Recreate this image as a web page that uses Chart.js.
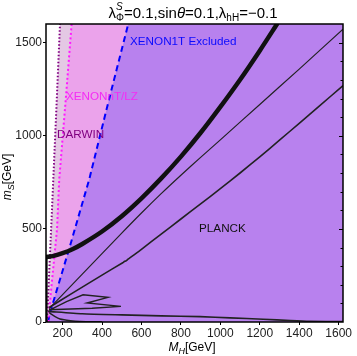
<!DOCTYPE html>
<html>
<head>
<meta charset="utf-8">
<script src="https://cdn.jsdelivr.net/npm/chart.js@4.4.0/dist/chart.umd.min.js"></script>
<style>
html, body { margin: 0; padding: 0; background: #fff; }
#wrap { width: 357px; height: 356px; }
</style>
</head>
<body>
<div id="wrap"><canvas id="c" width="357" height="356"></canvas></div>
<script>
// axes
const xTicks = [200, 400, 600, 800, 1000, 1200, 1400, 1600];
const yTicks = [0, 500, 1000, 1500];
const xRange = [116, 1622];
const yRange = [0, 1600];

// direct detection limits, [M_H, m_S]
const darwin = [[121, 0], [142, 500], [153, 765], [170, 1180], [187, 1600]];
const xenonNT = [[127, 0], [140, 150], [172, 500], [183, 765], [215, 1180], [246, 1600]];
const xenon1T = [[126, 0], [136, 48], [237, 406], [335, 765], [432, 1180], [533, 1600]];

// relic density (PLANCK) contours
const planckThick = [[116, 349], [150, 354], [200, 370], [250, 391], [300, 419], [400, 486], [500, 568],
  [600, 664], [700, 771], [800, 888], [900, 1016], [1000, 1155], [1100, 1301], [1200, 1457], [1290, 1604]];
const planckEdge = [[118, 0], [118, 349]];
const planckA = [[132, 72], [300, 257], [500, 477], [600, 585], [700, 689], [800, 788], [900, 884],
  [1000, 978], [1200, 1168], [1400, 1358], [1622, 1572]];
const planckB = [[132, 78], [250, 155], [400, 252], [505, 318], [515, 326], [522, 328], [532, 337],
  [600, 390], [700, 472], [800, 553], [900, 634], [1000, 716], [1100, 800], [1200, 887], [1300, 976],
  [1400, 1067], [1500, 1158], [1622, 1269]];
const planckLoop = [[131, 62], [220, 110], [304, 146], [430, 132], [324, 102], [496, 84], [350, 74], [131, 66]];
const planckBottom = [[127, 57], [300, 44], [500, 38], [700, 33], [897, 29], [1050, 22], [1217, 15],
  [1355, 8], [1450, 4], [1622, 2]];
const planckLow = [[132, 50], [160, 30], [187, 16], [240, 7], [288, 3], [400, 1]];

const pts = (a) => a.map((p) => ({ x: p[0], y: p[1] }));
const corner = [xRange[1], yRange[1]];

const fillSet = (arr, color, order) => ({
  data: pts(arr.concat([corner])),
  borderWidth: 0,
  borderColor: "rgba(0,0,0,0)",
  backgroundColor: color,
  fill: "start",
  pointRadius: 0,
  tension: 0,
  order: order,
});

const lineSet = (arr, color, width, dash, tension, order) => ({
  data: pts(arr),
  borderColor: color,
  borderWidth: width,
  borderDash: dash,
  fill: false,
  pointRadius: 0,
  tension: tension,
  order: order,
});

const FONT = "'Liberation Sans', Arial, sans-serif";

// rich text: parts are [text, size, dy, italic]
function richWidth(ctx, parts) {
  let w = 0;
  parts.forEach((p) => {
    if (p.stack) {
      w += Math.max(...p.stack.map((q) => { ctx.font = (q[3] ? "italic " : "") + q[1] + "px " + FONT; return ctx.measureText(q[0]).width; }));
    } else {
      ctx.font = (p[3] ? "italic " : "") + p[1] + "px " + FONT;
      w += ctx.measureText(p[0]).width;
    }
  });
  return w;
}
function drawRich(ctx, parts, x, y) {
  let cx = x;
  ctx.textBaseline = "alphabetic";
  ctx.textAlign = "left";
  parts.forEach((p) => {
    const list = p.stack ? p.stack : [p];
    let adv = 0;
    list.forEach((q) => {
      ctx.font = (q[3] ? "italic " : "") + q[1] + "px " + FONT;
      ctx.fillText(q[0], cx, y + q[2]);
      adv = Math.max(adv, ctx.measureText(q[0]).width);
    });
    cx += adv;
  });
}

const titleParts = [
  ["λ", 15, 0, false],
  { stack: [["S", 10, -8, true], ["Φ", 10, 3, false]] },
  ["=0.1,sin", 15, 0, false],
  ["θ", 15, 0, true],
  ["=0.1,λ", 15, 0, false],
  ["hH", 10, 3, false],
  ["=−0.1", 15, 0, false],
];
const xTitleParts = [["M", 12, 0, true], ["H", 9, 3, true], ["[GeV]", 12, 0, false]];
const yTitleParts = [["m", 12, 0, true], ["S", 9, 3, true], ["[GeV]", 12, 0, false]];

const labels = [
  { text: "XENON1T Excluded", x: 542, y: 1504, color: "#0a0aff" },
  { text: "XENONnT/LZ", x: 217, y: 1208, color: "#f42cf4" },
  { text: "DARWIN", x: 172, y: 1003, color: "#800080" },
  { text: "PLANCK", x: 892, y: 501, color: "#111" },
];

const decoPlugin = {
  id: "deco",
  afterDatasetsDraw(chart) {
    const ctx = chart.ctx;
    const xs = chart.scales.x, ys = chart.scales.y;
    const a = chart.chartArea;
    ctx.save();
    labels.forEach((l) => {
      ctx.font = "11.7px " + FONT;
      ctx.fillStyle = l.color;
      ctx.textAlign = "left";
      ctx.textBaseline = "middle";
      ctx.fillText(l.text, xs.getPixelForValue(l.x), ys.getPixelForValue(l.y));
    });
    // frame
    ctx.strokeStyle = "#000";
    ctx.lineWidth = 1.5;
    ctx.strokeRect(a.left, a.top, a.right - a.left, a.bottom - a.top);
    // small inner ticks on the right
    ctx.lineWidth = 1;
    for (let v = 100; v < yRange[1]; v += 100) {
      const py = Math.round(ys.getPixelForValue(v)) + 0.5;
      ctx.beginPath();
      ctx.moveTo(a.right, py);
      ctx.lineTo(a.right - (v % 500 === 0 ? 4 : 2.5), py);
      ctx.stroke();
    }
    ctx.restore();
  },
  afterDraw(chart) {
    const ctx = chart.ctx;
    ctx.save();
    ctx.fillStyle = "#000";
    const tw = richWidth(ctx, titleParts);
    drawRich(ctx, titleParts, 193 - tw / 2, 17.5);
    const xw = richWidth(ctx, xTitleParts);
    drawRich(ctx, xTitleParts, 192 - xw / 2, 351);
    const yw = richWidth(ctx, yTitleParts);
    ctx.translate(10.5, 177);
    ctx.rotate(-Math.PI / 2);
    drawRich(ctx, yTitleParts, -yw / 2, 0);
    ctx.restore();
  },
};

new Chart(document.getElementById("c").getContext("2d"), {
  type: "line",
  data: {
    datasets: [
      fillSet(darwin, "#e4c8e4", 12),
      fillSet(xenonNT, "#eba3eb", 11),
      fillSet(xenon1T, "#b881ee", 10),
      lineSet(darwin, "#800080", 2, [1.5, 2], 0, 5),
      lineSet(xenonNT, "#ff1aff", 2, [2, 2.5], 0, 5),
      lineSet(xenon1T, "#0000ff", 2, [6, 4], 0, 5),
      lineSet(planckThick, "#111", 4.5, [], 0.3, 1),
      lineSet(planckEdge, "#111", 2.5, [], 0, 1),
      lineSet(planckA, "#222", 1.2, [], 0.3, 1),
      lineSet(planckB, "#222", 1.6, [], 0.2, 1),
      lineSet(planckLoop, "#222", 1.4, [], 0, 1),
      lineSet(planckBottom, "#222", 1.6, [], 0.2, 1),
      lineSet(planckLow, "#222", 1.4, [], 0.2, 1),
    ],
  },
  options: {
    responsive: false,
    animation: false,
    devicePixelRatio: 1,
    layout: { padding: { top: 24, right: 14, left: 0, bottom: 0 } },
    plugins: {
      legend: { display: false },
      tooltip: { enabled: false },
      title: { display: false },
    },
    scales: {
      x: {
        type: "linear",
        min: xRange[0],
        max: xRange[1],
        afterBuildTicks: (s) => { s.ticks = xTicks.map((v) => ({ value: v })); },
        afterFit: (s) => { s.height = 34; },
        ticks: { color: "#222", font: { family: FONT, size: 12 }, padding: 1, maxRotation: 0, callback: (v) => String(v) },
        grid: { drawOnChartArea: false, drawTicks: true, tickLength: 3, color: "#000" },
        border: { display: false },
      },
      y: {
        type: "linear",
        min: yRange[0],
        max: yRange[1],
        afterBuildTicks: (s) => { s.ticks = yTicks.map((v) => ({ value: v })); },
        afterFit: (s) => { s.width = 46; },
        ticks: { color: "#222", font: { family: FONT, size: 12 }, padding: 1, callback: (v) => String(v) },
        grid: { drawOnChartArea: false, drawTicks: true, tickLength: 3, color: "#000" },
        border: { display: false },
      },
    },
  },
  plugins: [decoPlugin],
});
</script>
</body>
</html>
